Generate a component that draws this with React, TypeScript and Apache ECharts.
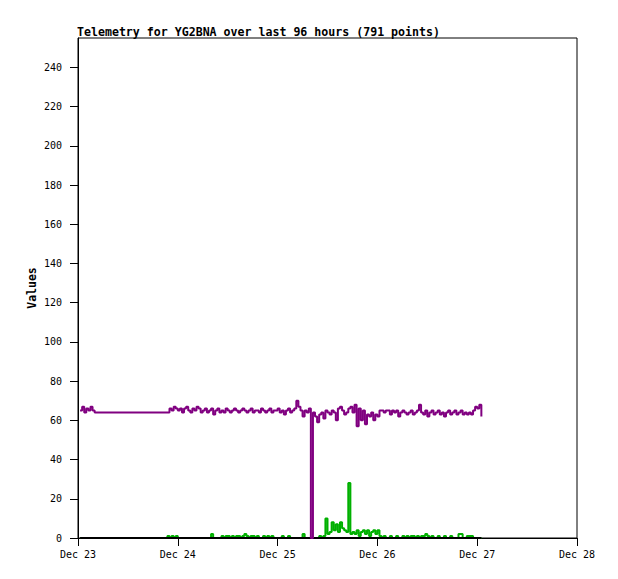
import React, { useEffect, useRef } from "react";
import * as echarts from "echarts";

// Hours since Dec 23 00:00
const xTickHours = [0, 24, 48, 72, 96, 120];
const xTickLabels = ["Dec 23", "Dec 24", "Dec 25", "Dec 26", "Dec 27", "Dec 28"];
const yTicks = [0, 20, 40, 60, 80, 100, 120, 140, 160, 180, 200, 220, 240];

// Sampling of the two data segments (hours)
const segAStart = 0.5;
const segBStart = 21.5;
const sampleStep = 0.5;

// Purple series (segment A: start, segment B: after gap)
const purpleA = [65, 67, 64, 66, 65, 67, 65, 64];
const purpleB = [
  64, 66, 65, 67, 66, 65, 66, 64, 66, 67, 65, 64, 66, 65, 67, 66, 64, 65, 66, 64,
  65, 66, 63, 65, 66, 64, 65, 64, 66, 65, 64, 65, 66, 65, 64, 65, 66, 65, 64, 65,
  66, 64, 65, 65, 64, 66, 65, 64, 65, 66, 64, 65, 65, 66, 64, 65, 63, 65, 66, 64,
  65, 66, 70, 67, 65, 62, 65, 64, 66, 0, 64, 62, 59, 63, 64, 61, 65, 64, 63, 65,
  64, 60, 66, 67, 65, 63, 64, 66, 67, 64, 68, 57, 66, 60, 65, 58, 63, 62, 64, 60,
  63, 62, 65, 65, 64, 65, 65, 63, 65, 64, 65, 62, 64, 65, 64, 63, 64, 65, 63, 64,
  65, 68, 64, 63, 65, 62, 64, 65, 63, 64, 65, 63, 64, 62, 64, 65, 63, 64, 65, 63,
  64, 65, 63, 64, 63, 64, 63, 65, 67, 66, 68, 62,
];

// Green series
const greenA = [0, 0, 0, 0, 0, 0, 0, 0];
const greenB = [
  1, 0, 1, 0, 1, 0, 0, 0, 0, 0, 0, 0, 0, 0, 0, 0, 0, 0, 0, 0,
  0, 2, 0, 0, 0, 0, 1, 0, 1, 1, 0, 1, 0, 1, 1, 0, 1, 2, 1, 0,
  1, 1, 0, 1, 0, 0, 1, 0, 1, 0, 1, 0, 0, 0, 0, 1, 0, 0, 1, 0,
  0, 0, 0, 0, 0, 2, 0, 0, 0, 0, 0, 0, 0, 1, 0, 1, 10, 2, 3, 8,
  4, 7, 3, 8, 5, 4, 3, 28, 2, 3, 2, 4, 1, 3, 4, 2, 4, 1, 3, 4,
  2, 4, 1, 0, 1, 0, 0, 1, 0, 0, 1, 0, 0, 1, 0, 1, 0, 1, 1, 0,
  1, 0, 1, 1, 2, 1, 0, 1, 0, 0, 1, 0, 0, 1, 0, 0, 1, 0, 0, 0,
  2, 2, 0, 0, 1, 1, 1, 0, 0, 0, 0, 0,
];

// Black series (zero line)
const blackHours = [0.5, 4, 21.5, 97];
const blackValues = [0, 0, 0, 0];

function segmentPoints(start: number, values: number[]) {
  return values.map((v, i) => [start + i * sampleStep, v]);
}

export default function App() {
  const ref = useRef<HTMLDivElement>(null);
  useEffect(() => {
    if (!ref.current) return;
    const chart = echarts.init(ref.current, null, { renderer: "svg" });
    const mono = "DejaVu Sans Mono";
    const purpleData = [
      ...segmentPoints(segAStart, purpleA),
      ...segmentPoints(segBStart, purpleB),
    ];
    const greenData = [
      ...segmentPoints(segAStart, greenA),
      ...segmentPoints(segBStart, greenB),
    ];
    const blackData = blackHours.map((h, i) => [h, blackValues[i]]);
    chart.setOption({
      animation: false,
      backgroundColor: "#fff",
      title: {
        text: "Telemetry for YG2BNA over last 96 hours (791 points)",
        left: 72,
        top: 21,
        textStyle: { fontFamily: mono, fontSize: 11.6, fontWeight: "bold", color: "#000" },
      },
      grid: {
        left: 78,
        top: 38,
        right: 41,
        bottom: 41,
        show: true,
        borderColor: "#000",
        borderWidth: 1,
        backgroundColor: "transparent",
      },
      xAxis: {
        type: "value",
        min: 0,
        max: 120,
        interval: 24,
        axisLine: { show: true, lineStyle: { color: "#000", width: 1 } },
        axisTick: { show: true, length: 8, inside: false, lineStyle: { color: "#000" }, customValues: xTickHours },
        axisLabel: {
          margin: 11,
          fontFamily: mono,
          fontSize: 10,
          color: "#000",
          customValues: xTickHours,
          formatter: (v: number) => {
            const idx = xTickHours.indexOf(v);
            return idx >= 0 ? xTickLabels[idx] : "";
          },
        },
        splitLine: { show: false },
      },
      yAxis: {
        type: "value",
        min: 0,
        max: 255,
        name: "Values",
        nameLocation: "middle",
        nameGap: 40,
        nameMoveOverlap: false,
        nameTextStyle: { fontFamily: mono, fontSize: 11.5, fontWeight: "bold", color: "#000" },
        axisLine: { show: true, lineStyle: { color: "#000", width: 1 } },
        axisTick: { show: true, length: 8, inside: false, lineStyle: { color: "#000" }, customValues: yTicks },
        axisLabel: {
          margin: 16,
          fontFamily: mono,
          fontSize: 10,
          color: "#000",
          customValues: yTicks,
        },
        splitLine: { show: false },
      },
      series: [
        {
          type: "line",
          step: "end",
          data: greenData,
          showSymbol: false,
          lineStyle: { color: "#00b000", width: 2 },
          z: 2,
        },
        {
          type: "line",
          data: blackData,
          showSymbol: false,
          lineStyle: { color: "#000", width: 2 },
          z: 3,
        },
        {
          type: "line",
          step: "end",
          data: purpleData,
          showSymbol: false,
          lineStyle: { color: "#800080", width: 2 },
          z: 4,
        },
      ],
    });
    return () => chart.dispose();
  }, []);
  return <div ref={ref} style={{ width: 618, height: 579, position: "absolute", left: 0, top: 0 }} />;
}
